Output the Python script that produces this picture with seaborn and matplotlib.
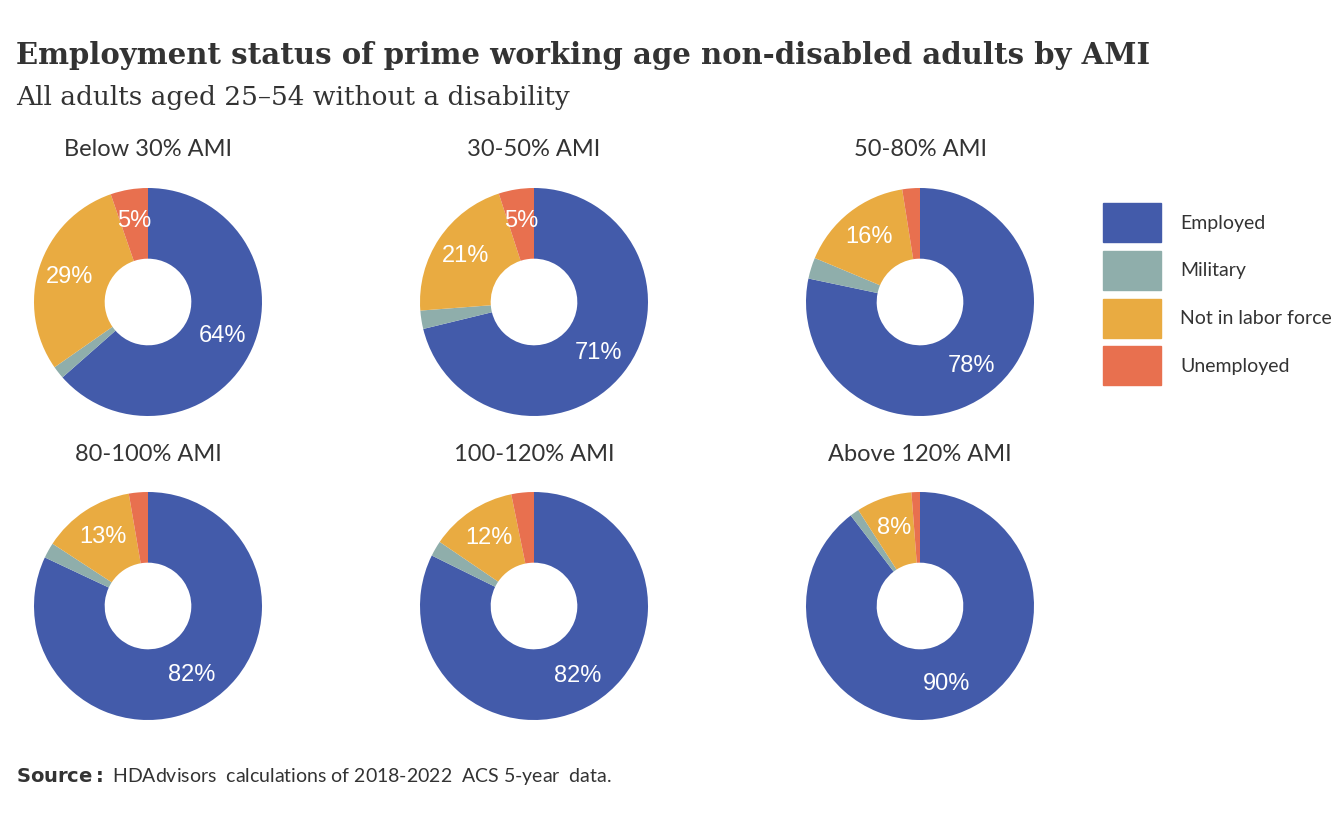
import matplotlib
matplotlib.use("Agg")
import matplotlib.pyplot as plt
import matplotlib.patches as mpatches
import seaborn as sns

sns.set_theme(style="white")
plt.rcParams['font.family'] = ['Lato', 'DejaVu Sans']

groups = ["Below 30% AMI", "30-50% AMI", "50-80% AMI",
          "80-100% AMI", "100-120% AMI", "Above 120% AMI"]
statuses = ["Employed", "Military", "Not in labor force", "Unemployed"]
employed = [63.5, 71.2, 78.3, 82.0, 82.3, 89.6]
military = [1.8, 2.6, 3.0, 2.2, 2.2, 1.3]
not_in_lf = [29.4, 21.2, 16.2, 13.1, 12.3, 7.9]
unemployed = [5.3, 5.0, 2.5, 2.7, 3.2, 1.2]
colors = ["#435BAA", "#8FAEAB", "#E9AB41", "#E8704F"]

W, H = 1344, 830
fig = plt.figure(figsize=(W / 100, H / 100), dpi=100)

fig.text(16 / W, 1 - 55 / H, "Employment status of prime working age non-disabled adults by AMI",
         fontsize=21, fontweight="bold", family=["DejaVu Serif"], color="#333333", va="center")
fig.text(16 / W, 1 - 97 / H, "All adults aged 25\u201354 without a disability",
         fontsize=19, family=["DejaVu Serif"], color="#333333", va="center")

centers = [(148, 302), (534, 302), (920, 302), (148, 606), (534, 606), (920, 606)]
r = 114
for i, g in enumerate(groups):
    cx, cy = centers[i]
    ax = fig.add_axes([(cx - r) / W, 1 - (cy + r) / H, 2 * r / W, 2 * r / H])
    vals = [employed[i], military[i], not_in_lf[i], unemployed[i]]
    total = sum(vals)
    wedges, _ = ax.pie(vals, colors=colors, startangle=90, counterclock=False,
                       wedgeprops=dict(width=0.62, linewidth=0))
    ang = 90
    for v in vals:
        span = v / total * 360
        mid = ang - span / 2
        ang -= span
        if v / total >= 0.045:
            import numpy as np
            t = np.deg2rad(mid)
            ax.text(0.72 * np.cos(t), 0.72 * np.sin(t), f"{round(v)}%",
                    ha="center", va="center", color="white", fontsize=17,
                    family=["Liberation Sans"])
    ax.set_aspect("equal")
    ax.set_xlim(-1, 1)
    ax.set_ylim(-1, 1)
    fig.text(cx / W, 1 - (cy - 152) / H, g, ha="center", va="center",
             fontsize=17, color="#333333")

handles = [mpatches.Patch(color=c, label=s) for c, s in zip(colors, statuses)]
fig.legend(handles=handles, loc="upper left", bbox_to_anchor=(1085 / W, 1 - 186 / H),
           frameon=False, fontsize=14, handlelength=3.0, handleheight=2.7,
           labelspacing=0.45, handletextpad=1.0, labelcolor="#333333")

fig.text(16 / W, 1 - 776 / H, r"$\bf{Source:}$ HDAdvisors  calculations of 2018-2022  ACS 5-year  data.",
         fontsize=14, color="#333333", va="center")

fig.savefig("out.png", dpi=100)
